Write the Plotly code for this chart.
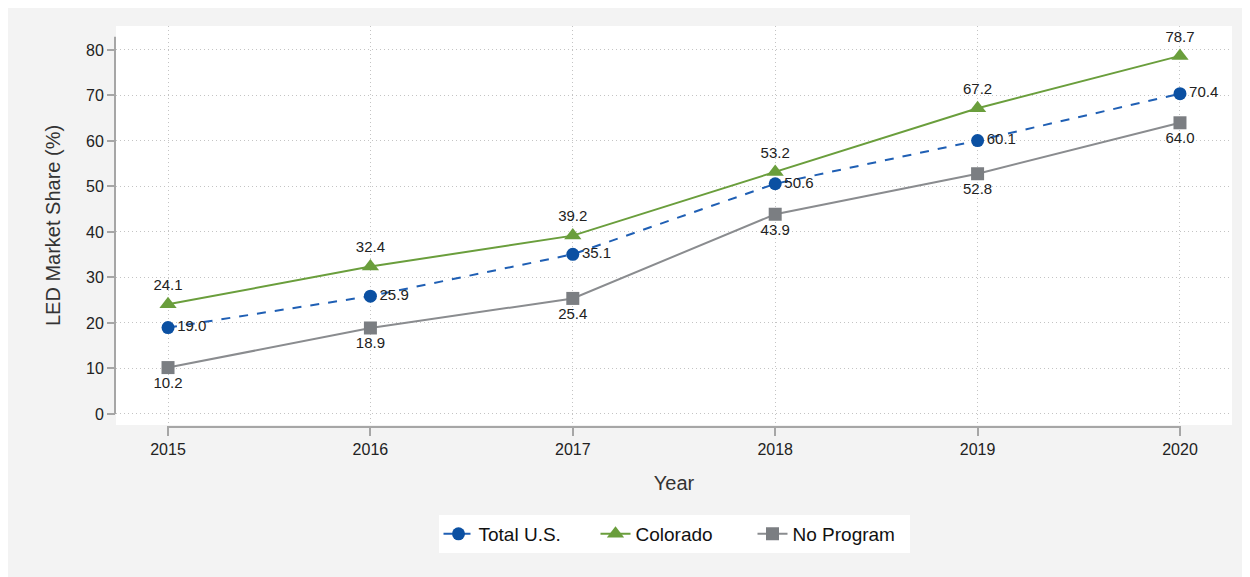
"""LED market share by year: Total U.S., Colorado and states with no program."""

import plotly.graph_objects as go

years = [2015, 2016, 2017, 2018, 2019, 2020]
total_us = [19.0, 25.9, 35.1, 50.6, 60.1, 70.4]
colorado = [24.1, 32.4, 39.2, 53.2, 67.2, 78.7]
no_program = [10.2, 18.9, 25.4, 43.9, 52.8, 64.0]
y_ticks = [0, 10, 20, 30, 40, 50, 60, 70, 80]

BLUE = "#0b50a2"
GREEN = "#6a9e3c"
GRAY = "#7b7e82"
FONT = "Liberation Sans, Arial, sans-serif"

fig = go.Figure()

fig.add_trace(go.Scatter(
    x=years, y=total_us, name="Total U.S.",
    mode="lines+markers+text",
    line=dict(color="#1f5fb4", width=2, dash="dash"),
    marker=dict(color=BLUE, size=13, symbol="circle"),
    text=[f"{v:.1f}" for v in total_us],
    textposition="middle right",
    textfont=dict(size=15, color="#222"),
))

fig.add_trace(go.Scatter(
    x=years, y=colorado, name="Colorado",
    mode="lines+markers+text",
    line=dict(color=GREEN, width=2),
    marker=dict(color=GREEN, size=15, symbol="triangle-up"),
    text=[f"{v:.1f}" for v in colorado],
    textposition="top center",
    textfont=dict(size=15, color="#222"),
))

fig.add_trace(go.Scatter(
    x=years, y=no_program, name="No Program",
    mode="lines+markers+text",
    line=dict(color="#8a8c8f", width=2),
    marker=dict(color=GRAY, size=13, symbol="square"),
    text=[f"{v:.1f}" for v in no_program],
    textposition="bottom center",
    textfont=dict(size=15, color="#222"),
))

# the page puts the figure 8px in from the window corner
OFF = 8
W, H = 1250 - OFF, 577 - OFF
L, T = 116 - OFF, 26 - OFF
R, B = 1250 - 1232, 577 - 425
pw, ph = W - L - R, H - T - B


def px_x(p):
    # window pixel -> paper x
    return (p - OFF - L) / pw


def px_y(p):
    # window pixel -> paper y
    return (H - B - (p - OFF)) / ph


shapes = [
    # x axis line, a little below the plot region
    dict(type="line", xref="x", yref="paper", x0=years[0], x1=years[-1],
         y0=px_y(427), y1=px_y(427), line=dict(color="#a6a6a6", width=2)),
    # y axis line
    dict(type="line", xref="paper", yref="y", x0=px_x(115), x1=px_x(115),
         y0=0, y1=82.9, line=dict(color="#a6a6a6", width=2)),
]

fig.update_layout(
    width=W, height=H,
    margin=dict(l=L, r=R, t=T, b=B),
    paper_bgcolor="#f3f3f3",
    plot_bgcolor="white",
    font=dict(family=FONT, color="#222"),
    shapes=shapes,
    legend=dict(
        orientation="h", x=0.5, xanchor="center", y=px_y(515), yanchor="top",
        bgcolor="white", font=dict(size=19, color="#111"),
        tracegroupgap=0, entrywidth=112, entrywidthmode="pixels",
    ),
    xaxis=dict(
        range=[2014.743, 2020.257],
        tickvals=years, ticks="outside", ticklen=10, tickwidth=2,
        tickcolor="#a6a6a6", tickfont=dict(size=16),
        showgrid=True, gridcolor="#c4c4c4", griddash="1px,3px", gridwidth=1,
        showline=False, zeroline=False,
        title=dict(text="Year", font=dict(size=20, color="#333"), standoff=18),
    ),
    yaxis=dict(
        range=[-2.42, 85.27],
        tickvals=y_ticks, ticks="outside", ticklen=8, tickwidth=2,
        tickcolor="#a6a6a6", tickfont=dict(size=16),
        showgrid=True, gridcolor="#c4c4c4", griddash="1px,3px", gridwidth=1,
        showline=False, zeroline=False,
        title=dict(text="LED Market Share (%)", font=dict(size=20, color="#333"), standoff=20),
    ),
)

fig.write_html("out.html")
